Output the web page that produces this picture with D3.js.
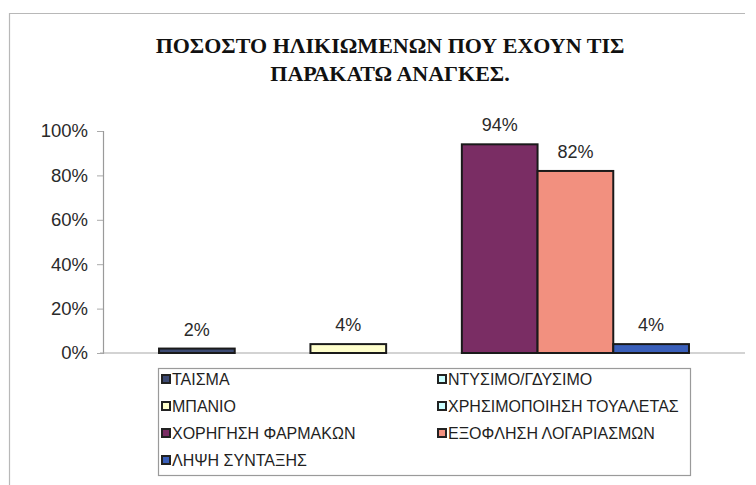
<!DOCTYPE html>
<html>
<head>
<meta charset="utf-8">
<script src="https://cdn.jsdelivr.net/npm/d3@7"></script>
<style>
  html, body { margin: 0; padding: 0; background: #fff; }
  svg { display: block; }
</style>
</head>
<body>
<svg id="chart" width="756" height="485"></svg>
<script>
// Share of elderly people with each need
const titleLines = ["ΠΟΣΟΣΤΟ ΗΛΙΚΙΩΜΕΝΩΝ ΠΟΥ ΕΧΟΥΝ ΤΙΣ", "ΠΑΡΑΚΑΤΩ ΑΝΑΓΚΕΣ."];
const series = [
  "ΤΑΙΣΜΑ",
  "ΝΤΥΣΙΜΟ/ΓΔΥΣΙΜΟ",
  "ΜΠΑΝΙΟ",
  "ΧΡΗΣΙΜΟΠΟΙΗΣΗ ΤΟΥΑΛΕΤΑΣ",
  "ΧΟΡΗΓΗΣΗ ΦΑΡΜΑΚΩΝ",
  "ΕΞΟΦΛΗΣΗ ΛΟΓΑΡΙΑΣΜΩΝ",
  "ΛΗΨΗ ΣΥΝΤΑΞΗΣ"
];
const values = [0.02, 0, 0.04, 0, 0.94, 0.82, 0.04];
const colors = ["#3d4a72", "#ccffff", "#ffffcc", "#ccffff", "#7a2d64", "#f2907f", "#3a5fba"];
const yTicks = [0, 0.2, 0.4, 0.6, 0.8, 1.0];

const svg = d3.select("#chart");
const sans = "'Liberation Sans', Arial, sans-serif";

// chart frame
svg.append("path")
  .attr("d", "M9.5,485 V13.5 H745")
  .attr("fill", "none")
  .attr("stroke", "#b8b8b8")
  .attr("stroke-width", 1.2);

// title
const title = svg.append("text")
  .attr("text-anchor", "middle")
  .attr("font-family", "'Liberation Serif', 'Times New Roman', serif")
  .attr("font-weight", "bold")
  .attr("font-size", 22)
  .attr("fill", "#111");
titleLines.forEach((t, i) => {
  title.append("tspan").attr("x", 390).attr("y", 53 + i * 28).text(t);
});

// plot area
const plot = { left: 103, right: 745, top: 131, bottom: 353 };

const y = d3.scaleLinear().domain([0, 1]).range([plot.bottom, plot.top]);
const x = d3.scaleBand()
  .domain(series)
  .range([plot.left, plot.right])
  .paddingInner(0)
  .paddingOuter(0.74);

// y axis
const yAxis = d3.axisLeft(y)
  .tickValues(yTicks)
  .tickFormat(d3.format(".0%"))
  .tickSize(6)
  .tickPadding(9);
const ya = svg.append("g")
  .attr("transform", `translate(${plot.left},0)`)
  .call(yAxis);
ya.select(".domain").attr("stroke", "#9a9a9a").attr("stroke-width", 1.2);
ya.selectAll(".tick line").attr("stroke", "#aaaaaa");
ya.selectAll(".tick text")
  .attr("font-family", sans)
  .attr("font-size", 18.5)
  .attr("fill", "#2a2a2a");

// baseline
svg.append("line")
  .attr("x1", plot.left - 3).attr("x2", plot.right)
  .attr("y1", y(0)).attr("y2", y(0))
  .attr("stroke", "#a8a8a8")
  .attr("stroke-width", 1.2);

// bars
svg.append("g").selectAll("rect")
  .data(series)
  .join("rect")
  .attr("x", d => x(d))
  .attr("y", (d, i) => y(values[i]))
  .attr("width", x.bandwidth())
  .attr("height", (d, i) => y(0) - y(values[i]))
  .attr("fill", (d, i) => colors[i])
  .attr("stroke", "#1a1a1a")
  .attr("stroke-width", (d, i) => values[i] > 0 ? 2 : 0);

// value labels
svg.append("g").selectAll("text")
  .data(series.filter((d, i) => values[i] > 0))
  .join("text")
  .attr("x", d => x(d) + x.bandwidth() / 2)
  .attr("y", d => y(values[series.indexOf(d)]) - 13)
  .attr("text-anchor", "middle")
  .attr("font-family", sans)
  .attr("font-size", 18)
  .attr("fill", "#2a2a2a")
  .text(d => d3.format(".0%")(values[series.indexOf(d)]));

// legend
const legend = svg.append("g");
legend.append("rect")
  .attr("x", 158.5).attr("y", 368.5)
  .attr("width", 532).attr("height", 107)
  .attr("fill", "#fff")
  .attr("stroke", "#9a9a9a")
  .attr("stroke-width", 1.2);

const items = legend.selectAll("g.item")
  .data(series)
  .join("g")
  .attr("class", "item")
  .attr("transform", (d, i) => `translate(${i % 2 === 0 ? 162 : 438},${380 + Math.floor(i / 2) * 27})`);
items.append("rect")
  .attr("x", 0).attr("y", -5)
  .attr("width", 8).attr("height", 8)
  .attr("fill", (d, i) => colors[i])
  .attr("stroke", "#222")
  .attr("stroke-width", 2);
items.append("text")
  .attr("x", 10)
  .attr("y", 5)
  .attr("font-family", sans)
  .attr("font-size", 16)
  .attr("fill", "#1f1f1f")
  .text(d => d);
</script>
</body>
</html>
